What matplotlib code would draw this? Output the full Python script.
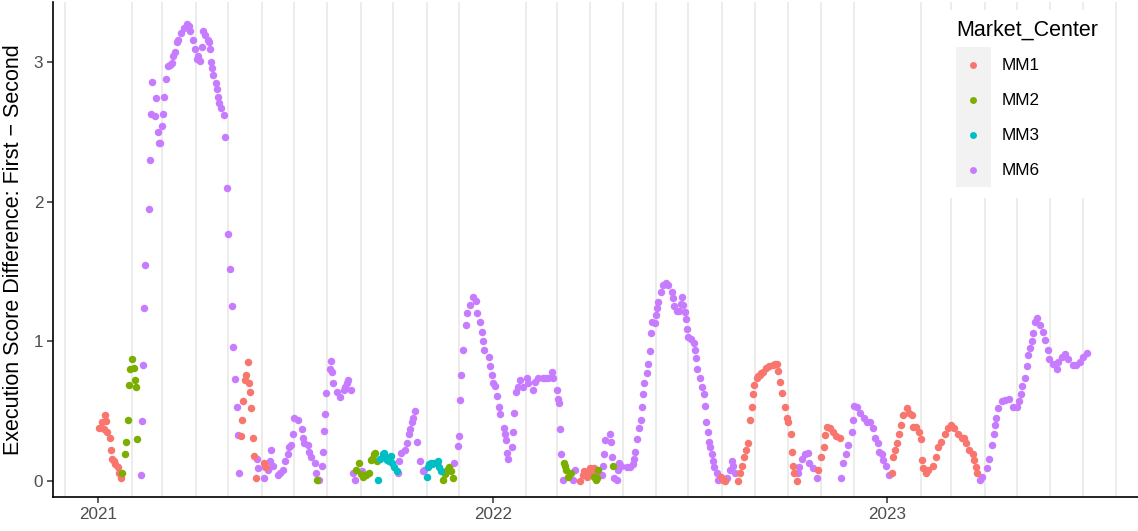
import pandas as pd
import matplotlib
matplotlib.use("Agg")
import matplotlib.pyplot as plt
import matplotlib.dates as mdates
from matplotlib.lines import Line2D
from matplotlib.patches import Rectangle
from matplotlib.legend_handler import HandlerBase

plt.rcParams['font.family'] = ['Liberation Sans', 'DejaVu Sans']

# days since 2021-01-01
start = pd.Timestamp('2021-01-01')

mm1_days = [1, 3, 5, 6, 7, 8, 11, 12, 13, 14, 15, 18, 19, 21,
            132, 133, 134, 136, 137, 138, 139, 140, 141, 143, 144, 146, 153, 155,
            446, 448, 449, 452, 454, 455, 457, 459, 460,
            576, 578, 580, 592, 594, 596, 597, 599, 601, 603, 605, 606, 607, 609, 610, 612,
            613, 615, 618, 621, 624, 626, 628, 629, 631, 633, 635, 637, 638, 641, 642, 643,
            644, 646,
            666, 669, 671, 672, 674, 677, 680, 683, 686,
            734, 735, 737, 739, 741, 743, 745, 748, 750, 753, 754, 757, 759, 761, 762, 763,
            766, 768, 772, 775, 777, 780, 783, 786, 789, 792, 795, 799, 801, 803, 806, 809,
            810, 812, 813]
mm1_vals = [0.38, 0.42, 0.37, 0.47, 0.43, 0.35, 0.31, 0.22, 0.16, 0.14, 0.12, 0.10, 0.06, 0.02,
            0.32, 0.44, 0.57, 0.72, 0.76, 0.85, 0.70, 0.64, 0.52, 0.31, 0.18, 0.02, 0.13, 0.10,
            0.00, 0.04, 0.07, 0.03, 0.06, 0.09, 0.08, 0.09, 0.06,
            0.03, 0.01, 0.00, 0.00, 0.06, 0.11, 0.17, 0.22, 0.27, 0.44, 0.53, 0.62, 0.69, 0.74,
            0.75, 0.76, 0.77, 0.78, 0.81, 0.82, 0.83, 0.84, 0.84, 0.79, 0.71, 0.63, 0.53, 0.45,
            0.42, 0.34, 0.21, 0.11, 0.06, 0.00,
            0.08, 0.17, 0.24, 0.33, 0.39, 0.38, 0.35, 0.32, 0.31,
            0.06, 0.17, 0.22, 0.27, 0.34, 0.40, 0.47, 0.52, 0.49, 0.47, 0.39, 0.39, 0.35, 0.30,
            0.15, 0.09, 0.06, 0.08, 0.11, 0.17, 0.24, 0.28, 0.34, 0.38, 0.40, 0.38, 0.34, 0.31,
            0.31, 0.27, 0.22, 0.19, 0.15, 0.10, 0.06]

mm2_days = [22, 25, 26, 27, 28, 29, 31, 33, 34, 35, 36, 202,
            238, 241, 243, 245, 248, 250, 252, 253, 255, 256, 258,
            319, 321, 323, 324, 326, 328,
            431, 432, 433, 435, 437, 459, 460, 461, 462, 476]
mm2_vals = [0.06, 0.19, 0.28, 0.44, 0.69, 0.80, 0.87, 0.81, 0.72, 0.67, 0.30, 0.01,
            0.08, 0.13, 0.05, 0.03, 0.04, 0.06, 0.15, 0.16, 0.19, 0.20, 0.14,
            0.01, 0.05, 0.08, 0.10, 0.07, 0.02,
            0.13, 0.11, 0.08, 0.03, 0.06, 0.03, 0.01, 0.02, 0.08, 0.11]

mm3_days = [259, 261, 263, 264, 265, 267, 269, 270, 271, 272, 274, 276,
            304, 305, 306, 308, 309, 311, 313, 314, 315, 317]
mm3_vals = [0.01, 0.16, 0.19, 0.20, 0.17, 0.15, 0.14, 0.17, 0.18, 0.13, 0.10, 0.07,
            0.03, 0.10, 0.12, 0.13, 0.12, 0.13, 0.13, 0.14, 0.10, 0.07]

mm6_days = [39, 40, 41, 42, 43, 47, 48, 49, 50, 52, 53, 55, 56, 57, 59, 60, 61, 63, 64, 66,
            68, 69, 71, 73, 74, 76, 79, 82, 84, 85, 88, 89, 91, 92, 94, 96, 97, 99, 101, 102,
            103, 104, 105, 106, 109, 110, 111, 112, 113, 116, 117, 119, 120, 122, 124, 125,
            126, 128, 129, 130,
            147, 148, 153, 154, 157, 159, 160, 162, 166, 168, 171, 173, 175, 176, 178, 180,
            181, 185, 188, 189, 190, 194, 195, 197, 200, 201, 203, 204, 207, 208, 209, 210,
            211, 214, 215, 216, 217, 221, 224, 227, 228, 230, 231, 234,
            236, 237, 244, 277, 278, 280, 284, 286, 287, 288, 290, 291, 293, 295, 298, 300, 301,
            329, 333, 334, 335, 336, 337, 340, 341, 344, 347, 349, 350, 353, 355, 356, 357,
            361, 362, 364, 365, 367, 369, 371, 372, 375, 376, 377, 378, 379, 383, 384, 385,
            386, 388, 390, 393, 397, 398, 402, 404, 407, 411, 413, 416, 420, 421, 424, 425,
            426, 427, 428, 430,
            439, 441,
            466, 467, 468, 469, 473, 474, 475, 477, 480, 481, 482, 484, 489, 492, 495, 496,
            497, 498, 500, 502, 503, 504, 505, 508, 509, 510, 511, 512, 515, 516, 517, 518,
            521, 522, 525, 527, 531, 532, 533, 535, 537, 539, 540, 541, 543, 544, 545, 546,
            548, 551, 552, 553, 554, 557, 559, 560, 561, 562, 564, 565, 566, 568, 569, 570,
            572, 573, 582, 584, 586, 587, 589,
            647, 648, 651, 654, 657, 658, 661, 665,
            687, 689, 692, 694, 697, 698, 699, 702, 705, 708, 711, 714, 717, 719, 721, 722,
            725, 726, 729, 732,
            816, 818, 822, 824, 827, 829, 830, 831, 832, 836, 839, 843, 846, 850, 852, 854,
            855, 857, 859, 860, 862, 864, 865, 867, 869, 871, 874, 876, 879, 880, 883, 887,
            888, 892, 894, 897, 902, 905, 908, 911, 915]
mm6_vals = [0.04, 0.43, 0.83, 1.24, 1.55, 1.95, 2.30, 2.63, 2.86, 2.61, 2.74, 2.50, 2.42, 2.42,
            2.54, 2.63, 2.75, 2.88, 2.97, 2.98, 2.99, 3.04, 3.07, 3.14, 3.16, 3.21, 3.24, 3.27,
            3.26, 3.22, 3.16, 3.09, 3.02, 3.04, 3.01, 3.11, 3.22, 3.19, 3.16, 3.14, 3.09, 3.00,
            2.96, 2.91, 2.85, 2.81, 2.75, 2.71, 2.67, 2.62, 2.46, 2.10, 1.77, 1.52, 1.25, 0.96,
            0.73, 0.53, 0.33, 0.06,
            0.16, 0.09, 0.02, 0.10, 0.08, 0.14, 0.22, 0.11, 0.04, 0.06, 0.08, 0.14, 0.19, 0.24,
            0.26, 0.34, 0.45, 0.44, 0.37, 0.31, 0.27, 0.26, 0.21, 0.17, 0.13, 0.06, 0.01, 0.01,
            0.11, 0.21, 0.36, 0.48, 0.63, 0.80, 0.86, 0.78, 0.70, 0.64, 0.60, 0.65, 0.67, 0.70,
            0.72, 0.65,
            0.06, 0.01, 0.07, 0.06, 0.14, 0.20, 0.22, 0.27, 0.34, 0.37, 0.42, 0.45, 0.50, 0.28,
            0.14, 0.07, 0.08,
            0.13, 0.25, 0.32, 0.58, 0.76, 0.94, 1.12, 1.20, 1.26, 1.32, 1.29, 1.20, 1.14, 1.07,
            1.00, 0.94, 0.89, 0.82, 0.76, 0.70, 0.68, 0.61, 0.53, 0.48, 0.38, 0.34, 0.29, 0.20,
            0.16, 0.24, 0.35, 0.49, 0.64, 0.67, 0.72, 0.67, 0.74, 0.70, 0.65, 0.71, 0.74, 0.74,
            0.74, 0.74, 0.78, 0.74, 0.65, 0.59, 0.56, 0.37, 0.19, 0.01,
            0.01, 0.08,
            0.04, 0.11, 0.19, 0.29, 0.34, 0.28, 0.17, 0.02, 0.01, 0.08, 0.13, 0.11, 0.10, 0.10,
            0.12, 0.16, 0.21, 0.30, 0.38, 0.44, 0.53, 0.62, 0.70, 0.77, 0.84, 0.93, 1.06, 1.14,
            1.13, 1.19, 1.24, 1.28, 1.35, 1.40, 1.42, 1.40, 1.35, 1.31, 1.25, 1.22, 1.22, 1.27,
            1.32, 1.26, 1.21, 1.16, 1.09, 1.03, 1.02, 0.99, 0.94, 0.88, 0.80, 0.74, 0.67, 0.62,
            0.54, 0.42, 0.35, 0.28, 0.24, 0.19, 0.14, 0.10, 0.06, 0.01,
            0.02, 0.08, 0.14, 0.11, 0.06,
            0.06, 0.10, 0.16, 0.19, 0.20, 0.13, 0.09, 0.02,
            0.02, 0.13, 0.19, 0.26, 0.35, 0.44, 0.54, 0.53, 0.49, 0.45, 0.42, 0.42, 0.38, 0.31,
            0.27, 0.21, 0.19, 0.15, 0.11, 0.04,
            0.01, 0.03, 0.09, 0.16, 0.26, 0.34, 0.40, 0.45, 0.52, 0.57, 0.58, 0.59, 0.53, 0.53,
            0.57, 0.62, 0.68, 0.74, 0.82, 0.90, 0.95, 1.00, 1.06, 1.14, 1.17, 1.12, 1.07, 1.01,
            0.94, 0.87, 0.84, 0.80, 0.85, 0.89, 0.91, 0.87, 0.83, 0.83, 0.85, 0.89, 0.92]

markets = ['MM1', 'MM2', 'MM3', 'MM6']
colors = ['#F8766D', '#7CAE00', '#00BFC4', '#C77CFF']
series = {'MM1': (mm1_days, mm1_vals), 'MM2': (mm2_days, mm2_vals),
          'MM3': (mm3_days, mm3_vals), 'MM6': (mm6_days, mm6_vals)}


# ggplot style legend key: grey square with the point in the middle
class KeyHandler(HandlerBase):
    def create_artists(self, legend, orig_handle, xdescent, ydescent,
                       width, height, fontsize, trans):
        box = Rectangle((-xdescent, -ydescent), width, height,
                        fc='#F2F2F2', ec='none', transform=trans)
        dot = Line2D([width / 2 - xdescent], [height / 2 - ydescent], ls='',
                     marker='o', ms=5, mfc=orig_handle.get_markerfacecolor(),
                     mec='none', transform=trans)
        return [box, dot]


fig = plt.figure(figsize=(11.38, 5.31), dpi=100)
ax = fig.add_axes([53/1138, 34/531, 1 - 53/1138, 495/531])

# purple first so the small clusters sit on top
for mk in ['MM6', 'MM1', 'MM2', 'MM3']:
    d, v = series[mk]
    dates = start + pd.to_timedelta(d, unit='D')
    ax.scatter(dates, v, s=29, color=colors[markets.index(mk)], linewidths=0, zorder=3)

ax.set_xlim(start - pd.Timedelta(days=42), start + pd.Timedelta(days=962))
ax.set_ylim(-0.1146, 3.4296)

ax.xaxis.set_major_locator(mdates.YearLocator())
ax.xaxis.set_major_formatter(mdates.DateFormatter('%Y'))
ax.xaxis.set_minor_locator(mdates.MonthLocator(bymonth=range(2, 13)))
ax.set_yticks([0, 1, 2, 3])
ax.grid(which='minor', axis='x', color='#EBEBEB', lw=1.3, zorder=0)
ax.set_axisbelow(True)

for side in ['top', 'right']:
    ax.spines[side].set_visible(False)
for side in ['left', 'bottom']:
    ax.spines[side].set_linewidth(1.2)
    ax.spines[side].set_color('black')

ax.tick_params(which='major', length=4, width=1.1, color='#333333',
               labelsize=12.3, labelcolor='#4D4D4D', pad=3)
ax.tick_params(which='minor', length=0)

ax.set_ylabel('Execution Score Difference: First \u2212 Second', fontsize=15.5)
ax.yaxis.set_label_coords(-0.027, 0.5)

handles = [Line2D([], [], ls='', marker='o', mfc=c) for c in colors]
leg = ax.legend(handles, markets, handler_map={Line2D: KeyHandler()},
                title='Market_Center', title_fontsize=15.5, fontsize=12.3,
                alignment='left', handlelength=2.05, handleheight=2.78,
                labelspacing=0, handletextpad=0.65, borderpad=0.6,
                frameon=True, facecolor='white', edgecolor='none', framealpha=1,
                fancybox=False, loc='upper left',
                bbox_to_anchor=(937/1138, 1 - 1/531), bbox_transform=fig.transFigure)
leg._legend_box.sep = 4.5  # a bit of room under the title

fig.savefig('out.png', dpi=100)
